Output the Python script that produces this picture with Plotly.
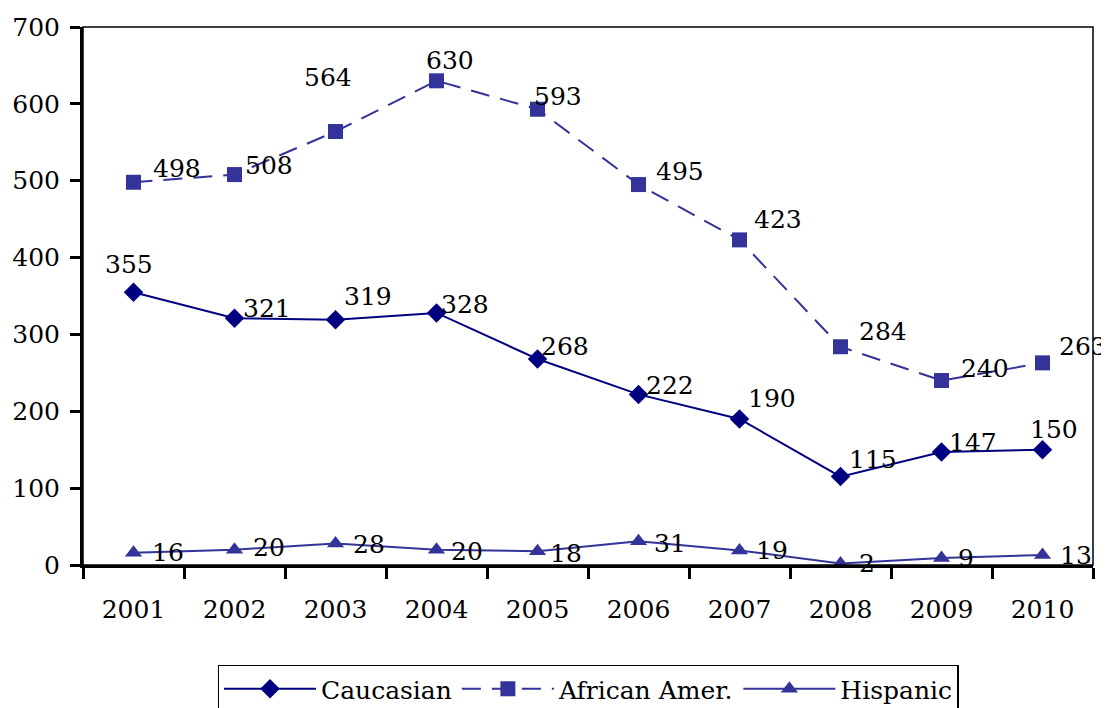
import plotly.graph_objects as go

years = ["2001", "2002", "2003", "2004", "2005", "2006", "2007", "2008", "2009", "2010"]
caucasian = [355, 321, 319, 328, 268, 222, 190, 115, 147, 150]
african_amer = [498, 508, 564, 630, 593, 495, 423, 284, 240, 263]
hispanic = [16, 20, 28, 20, 18, 31, 19, 2, 9, 13]

# label offsets (px) relative to the data point: (dx, dy up)
off_cau = [(-5, 28), (32, 10), (32, 23), (28, 8), (27, 13), (31, 9), (32, 20), (32, 17), (31, 10), (11, 20)]
off_afr = [(43, 14), (34, 9), (-8, 54), (13, 20), (20, 13), (41, 13), (38, 20), (42, 15), (43, 12), (40, 16)]
off_his = [(34, 0), (34, 2), (33, -1), (30, -2), (28, -2), (31, -2), (32, 0), (26, 0), (24, 0), (33, 0)]

FONT = "DejaVu Serif"
FS = 25
NAVY = "#000080"
BLUE = "#333399"

fig = go.Figure()
fig.add_trace(go.Scatter(x=years, y=caucasian, name="Caucasian", mode="lines+markers",
                         line=dict(color=NAVY, width=2),
                         marker=dict(symbol="diamond", size=15, color=NAVY)))
fig.add_trace(go.Scatter(x=years, y=african_amer, name="African Amer.", mode="lines+markers",
                         line=dict(color=BLUE, width=2, dash="19px,11px"),
                         marker=dict(symbol="square", size=15, color=BLUE)))
fig.add_trace(go.Scatter(x=years, y=hispanic, name="Hispanic", mode="lines+markers",
                         line=dict(color=BLUE, width=2),
                         marker=dict(symbol="triangle-up", size=15, color=BLUE)))

annotations = []
for vals, offs in ((caucasian, off_cau), (african_amer, off_afr), (hispanic, off_his)):
    for i, (v, (dx, dy)) in enumerate(zip(vals, offs)):
        annotations.append(dict(x=i, y=v, xref="x", yref="y", text=str(v), showarrow=False,
                                xanchor="center", yanchor="middle",
                                xshift=dx, yshift=dy,
                                font=dict(family=FONT, size=FS, color="black")))

# page body has an 8px margin; figure is sized so the plot lands where the reference has it
fig.update_layout(
    width=1101, height=700,
    margin=dict(l=75, r=16, t=19, b=143, autoexpand=False),
    paper_bgcolor="white", plot_bgcolor="white",
    font=dict(family=FONT, size=FS, color="black"),
    annotations=annotations,
    showlegend=True,
    legend=dict(orientation="h", x=0.5, xanchor="center", y=-0.185, yanchor="top",
                bordercolor="black", borderwidth=1.5, bgcolor="white",
                font=dict(family=FONT, size=FS, color="black"),
                itemwidth=92, tracegroupgap=0),
    shapes=[dict(type="rect", xref="x domain", yref="y domain", x0=0, x1=1, y0=0, y1=1,
                 line=dict(color="black", width=1.5), layer="above")],
)
fig.update_xaxes(type="category", range=[-0.5, 9.5], showline=True, linecolor="black", linewidth=3,
                 ticks="outside", tickson="boundaries", ticklen=11, tickwidth=2.5, tickcolor="black",
                 showgrid=False, zeroline=False, ticklabelstandoff=20, automargin=False,
                 tickfont=dict(family=FONT, size=FS, color="black"))
fig.update_yaxes(range=[0, 700], dtick=100, showline=True, linecolor="black", linewidth=3,
                 ticks="outside", ticklen=10, tickwidth=2.5, tickcolor="black",
                 showgrid=False, zeroline=False, ticklabelstandoff=5, automargin=False,
                 tickfont=dict(family=FONT, size=FS, color="black"))

fig.write_html("out.html")
